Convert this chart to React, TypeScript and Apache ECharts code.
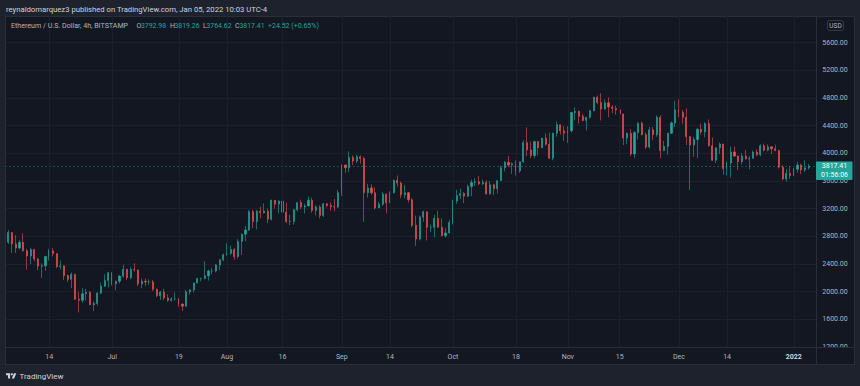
import React, { useEffect, useRef } from 'react';
import * as echarts from 'echarts';

// Daily candles [open, close, low, high], ETH/USD (Bitstamp)
const jun = [
  [2634, 2716, 2578, 2800], [2716, 2857, 2690, 2891], [2857, 2689, 2560, 2860], [2689, 2630, 2560, 2817],
  [2630, 2714, 2612, 2743], [2714, 2591, 2580, 2845], [2591, 2515, 2320, 2620], [2515, 2609, 2400, 2635],
  [2609, 2473, 2440, 2620], [2473, 2368, 2310, 2490], [2368, 2373, 2200, 2410], [2373, 2509, 2300, 2520],
  [2509, 2590, 2450, 2620], [2590, 2550, 2510, 2634], [2550, 2364, 2340, 2560], [2364, 2373, 2320, 2450],
  [2373, 2230, 2170, 2380], [2230, 2178, 2140, 2250], [2178, 2250, 2050, 2280], [2250, 1890, 1880, 2260],
  [1890, 1875, 1700, 2000], [1875, 1970, 1840, 2050], [1970, 1990, 1870, 2040], [1990, 1810, 1800, 2010],
  [1810, 1830, 1720, 1860], [1830, 1980, 1800, 1990], [1980, 2080, 1960, 2130], [2080, 2160, 2070, 2250],
  [2160, 2275, 2060, 2285],
];
const jul = [
  [2275, 2115, 2090, 2280], [2115, 2150, 2020, 2160], [2150, 2225, 2120, 2240], [2225, 2325, 2200, 2390],
  [2325, 2200, 2170, 2330], [2200, 2320, 2180, 2350], [2320, 2315, 2290, 2410], [2315, 2115, 2080, 2320],
  [2115, 2150, 2050, 2190], [2150, 2140, 2080, 2190], [2140, 2140, 2100, 2180], [2140, 2035, 2010, 2170],
  [2035, 1940, 1920, 2045], [1940, 1995, 1880, 2010], [1995, 1910, 1880, 2040], [1910, 1875, 1855, 1960],
  [1875, 1895, 1855, 1920], [1895, 1895, 1870, 1990], [1895, 1820, 1780, 1905], [1820, 1790, 1720, 1830],
  [1790, 1995, 1780, 2025], [1995, 2025, 1960, 2040], [2025, 2125, 1990, 2130], [2125, 2190, 2120, 2200],
  [2190, 2190, 2150, 2200], [2190, 2230, 2180, 2440], [2230, 2300, 2160, 2320], [2300, 2300, 2250, 2345],
  [2300, 2385, 2280, 2400], [2385, 2460, 2310, 2470], [2460, 2535, 2440, 2550],
];
const aug = [
  [2535, 2555, 2520, 2700], [2555, 2610, 2530, 2665], [2610, 2505, 2460, 2630], [2505, 2725, 2480, 2760],
  [2725, 2830, 2530, 2840], [2830, 2890, 2730, 2950], [2890, 3157, 2880, 3180], [3157, 3013, 2920, 3185],
  [3013, 3163, 2900, 3180], [3163, 3142, 3060, 3230], [3142, 3164, 3130, 3275], [3164, 3047, 2990, 3200],
  [3047, 3322, 3030, 3330], [3322, 3266, 3200, 3300], [3266, 3310, 3130, 3320], [3310, 3150, 3140, 3335],
  [3150, 3013, 2990, 3290], [3013, 3017, 2960, 3110], [3017, 3185, 2970, 3190], [3185, 3289, 3160, 3290],
  [3289, 3225, 3190, 3330], [3225, 3240, 3130, 3270], [3240, 3322, 3230, 3375], [3322, 3173, 3140, 3360],
  [3173, 3225, 3100, 3250], [3225, 3100, 3060, 3250], [3100, 3270, 3080, 3280], [3270, 3245, 3220, 3280],
  [3245, 3227, 3170, 3290], [3227, 3225, 3160, 3340], [3225, 3431, 3210, 3470],
];
const sep = [
  [3431, 3830, 3380, 3840], [3830, 3790, 3720, 3840], [3790, 3940, 3730, 4030], [3940, 3890, 3830, 3970],
  [3890, 3950, 3860, 3980], [3950, 3925, 3850, 3970], [3925, 3430, 3010, 3950], [3430, 3500, 3360, 3560],
  [3500, 3430, 3400, 3550], [3430, 3210, 3190, 3510], [3210, 3265, 3210, 3300], [3265, 3410, 3240, 3440],
  [3410, 3285, 3130, 3420], [3285, 3430, 3280, 3450], [3430, 3610, 3420, 3620], [3610, 3570, 3520, 3680],
  [3570, 3400, 3350, 3590], [3400, 3430, 3350, 3540], [3430, 3330, 3290, 3440], [3330, 2960, 2930, 3350],
  [2960, 2760, 2660, 3100], [2760, 3080, 2740, 3100], [3080, 3155, 3010, 3170], [3155, 2930, 2740, 3160],
  [2930, 2930, 2860, 2970], [2930, 3060, 2790, 3110], [3060, 2930, 2930, 3170], [2930, 2810, 2800, 3060],
  [2810, 2850, 2780, 2920], [2850, 3000, 2840, 3040],
];
const oct = [
  [3000, 3310, 2970, 3330], [3310, 3390, 3270, 3470], [3390, 3420, 3340, 3490], [3420, 3380, 3280, 3440],
  [3380, 3520, 3370, 3550], [3520, 3580, 3380, 3620], [3580, 3590, 3530, 3640], [3590, 3560, 3540, 3670],
  [3560, 3580, 3540, 3620], [3580, 3415, 3400, 3610], [3415, 3545, 3400, 3600], [3545, 3490, 3400, 3560],
  [3490, 3605, 3420, 3610], [3605, 3790, 3600, 3820], [3790, 3870, 3740, 3890], [3870, 3830, 3800, 3960],
  [3830, 3850, 3700, 3870], [3850, 3745, 3680, 3900], [3745, 3880, 3720, 3880], [3880, 4155, 3860, 4190],
  [4155, 4050, 3960, 4375], [4050, 3970, 3930, 4170], [3970, 4170, 3930, 4180], [4170, 4080, 3970, 4180],
  [4080, 4220, 4080, 4220], [4220, 4130, 4110, 4290], [4130, 3930, 3920, 4300], [3930, 4290, 3900, 4300],
  [4290, 4415, 4240, 4460], [4415, 4325, 4270, 4420], [4325, 4290, 4180, 4390],
];
const nov = [
  [4290, 4325, 4150, 4390], [4325, 4590, 4300, 4600], [4590, 4605, 4480, 4665], [4605, 4535, 4430, 4620],
  [4535, 4475, 4460, 4570], [4475, 4520, 4330, 4530], [4520, 4615, 4500, 4630], [4615, 4810, 4610, 4820],
  [4810, 4735, 4710, 4835], [4735, 4640, 4475, 4870], [4640, 4730, 4630, 4780], [4730, 4670, 4520, 4810],
  [4670, 4650, 4580, 4700], [4650, 4630, 4560, 4690], [4630, 4570, 4550, 4780], [4570, 4220, 4120, 4570],
  [4220, 4290, 4130, 4300], [4290, 3990, 3960, 4350], [3990, 4300, 3930, 4320], [4300, 4435, 4200, 4450],
  [4435, 4270, 4260, 4460], [4270, 4090, 4060, 4300], [4090, 4340, 4070, 4380], [4340, 4270, 4190, 4380],
  [4270, 4520, 4240, 4550], [4520, 4040, 3930, 4550], [4040, 4100, 4030, 4180], [4100, 4290, 3980, 4300],
  [4290, 4440, 4280, 4460], [4440, 4630, 4380, 4760],
];
const dec = [
  [4630, 4590, 4520, 4780], [4590, 4520, 4430, 4630], [4520, 4240, 4120, 4650], [4240, 4120, 3470, 4250],
  [4120, 4200, 3950, 4240], [4200, 4350, 3930, 4360], [4350, 4310, 4270, 4430], [4310, 4430, 4230, 4450],
  [4430, 4110, 4100, 4490], [4110, 3900, 3890, 4230], [3900, 4080, 3860, 4090], [4080, 4135, 3990, 4160],
  [4135, 3780, 3690, 4140], [3780, 3860, 3680, 3880], [3860, 4020, 3650, 4100], [4020, 3960, 3950, 4100],
  [3960, 3880, 3760, 3970], [3880, 3960, 3840, 4000], [3960, 3920, 3910, 4050], [3920, 3930, 3770, 3960],
  [3930, 4020, 3920, 4040], [4020, 3980, 3960, 4060], [3980, 4110, 3960, 4130], [4110, 4045, 4030, 4140],
  [4045, 4095, 4030, 4130], [4095, 4065, 3990, 4100], [4065, 4040, 4030, 4125], [4040, 3800, 3780, 4050],
  [3800, 3630, 3610, 3830], [3630, 3710, 3590, 3770], [3710, 3680, 3630, 3810],
];
const jan = [
  [3680, 3770, 3680, 3790], [3770, 3830, 3720, 3880], [3830, 3760, 3700, 3850], [3760, 3790, 3730, 3900],
  [3790, 3817.41, 3764.62, 3845],
];

const firstDate = '2021-06-01';
const dayCount = 221; // Jun 1 2021 .. Jan 7 2022 (Jun 1, Jan 6, Jan 7 empty)
const tickDates = ['2021-06-14', '2021-07-01', '2021-07-19', '2021-08-01', '2021-08-16', '2021-09-01', '2021-09-14',
  '2021-10-01', '2021-10-18', '2021-11-01', '2021-11-15', '2021-12-01', '2021-12-14', '2022-01-01'];
const tickLabels = ['14', 'Jul', '19', 'Aug', '16', 'Sep', '14', 'Oct', '18', 'Nov', '15', 'Dec', '14', '2022'];
const lastPrice = 3817.41;
const countdown = '01:56:06';
const publishedText = 'reynaldomarquez3 published on TradingView.com, Jan 05, 2022 10:03 UTC-4';
const symbolText = 'Ethereum / U.S. Dollar, 4h, BITSTAMP';
const ohlcKeys = ['O', 'H', 'L', 'C'];
const ohlcValues = ['3792.98', '3819.26', '3764.62', '3817.41'];
const changeText = '+24.52 (+0.65%)';

echarts.graphic.registerShape(
  'tvlogo',
  echarts.graphic.extendPath('M14 22H7V11H0V4h14v18zM28 22h-8l7.5-18h8L28 22z', {})
);

function buildDates(start: string, n: number): string[] {
  const out: string[] = [];
  const d0 = new Date(start + 'T00:00:00Z').getTime();
  for (let i = 0; i < n; i++) {
    out.push(new Date(d0 + i * 86400000).toISOString().slice(0, 10));
  }
  return out;
}

const FONT = 'Roboto, "Noto Sans", sans-serif';
const BG = '#131722';
const FRAME = '#1e222d';
const BORDER = '#2a2e39';
const GRID = '#1c202b';
const UP = '#26a69a';
const DOWN = '#ef5350';
const TEXT = '#b2b5be';

function txt(text: string, x: number, y: number, fill: string, size: number, align = 'left', weight = 'normal', z = 120) {
  return {
    type: 'text', x, y, z, silent: true,
    style: {
      text, fill, fontSize: size, fontFamily: FONT, fontWeight: weight,
      align, verticalAlign: 'middle', textAlign: align, textVerticalAlign: 'middle',
    },
  };
}

export default function App() {
  const ref = useRef<HTMLDivElement>(null);
  useEffect(() => {
    if (!ref.current) return;
    const chart = echarts.init(ref.current, null, { renderer: 'svg' });
    const dates = buildDates(firstDate, dayCount);
    const empty = ['-', '-', '-', '-'];
    const candles: any[] = [empty, ...jun, ...jul, ...aug, ...sep, ...oct, ...nov, ...dec, ...jan];
    while (candles.length < dates.length) candles.push(empty);

    const graphics: any[] = [
      // outer frame strips
      { type: 'rect', z: 100, silent: true, shape: { x: 0, y: 0, width: 860, height: 16 }, style: { fill: FRAME } },
      { type: 'rect', z: 100, silent: true, shape: { x: 0, y: 364, width: 860, height: 22 }, style: { fill: FRAME } },
      { type: 'rect', z: 100, silent: true, shape: { x: 0, y: 0, width: 5, height: 386 }, style: { fill: FRAME } },
      { type: 'rect', z: 100, silent: true, shape: { x: 855, y: 0, width: 5, height: 386 }, style: { fill: FRAME } },
      // mask under the price axis in the time axis row
      { type: 'rect', z: 100, silent: true, shape: { x: 817, y: 348, width: 38, height: 16 }, style: { fill: BG } },
      // borders and separators
      { type: 'line', z: 101, silent: true, shape: { x1: 5, y1: 16.5, x2: 855, y2: 16.5 }, style: { stroke: BORDER, lineWidth: 1 } },
      { type: 'line', z: 101, silent: true, shape: { x1: 5, y1: 364.5, x2: 855, y2: 364.5 }, style: { stroke: BORDER, lineWidth: 1 } },
      { type: 'line', z: 101, silent: true, shape: { x1: 5.5, y1: 16, x2: 5.5, y2: 365 }, style: { stroke: BORDER, lineWidth: 1 } },
      { type: 'line', z: 101, silent: true, shape: { x1: 854.5, y1: 16, x2: 854.5, y2: 365 }, style: { stroke: BORDER, lineWidth: 1 } },
      { type: 'line', z: 101, silent: true, shape: { x1: 816.5, y1: 16, x2: 816.5, y2: 365 }, style: { stroke: BORDER, lineWidth: 1 } },
      { type: 'line', z: 101, silent: true, shape: { x1: 5, y1: 347.5, x2: 855, y2: 347.5 }, style: { stroke: BORDER, lineWidth: 1 } },
      // header
      txt(publishedText, 6, 9.5, '#d1d4dc', 7.7),
      txt(symbolText, 11, 25.5, TEXT, 7.1),
      txt(ohlcKeys[0], 136.5, 25.5, TEXT, 7), txt(ohlcValues[0], 141, 25.5, UP, 6.9),
      txt(ohlcKeys[1], 170, 25.5, TEXT, 7), txt(ohlcValues[1], 174.5, 25.5, UP, 6.9),
      txt(ohlcKeys[2], 203, 25.5, TEXT, 7), txt(ohlcValues[2], 206.5, 25.5, UP, 6.9),
      txt(ohlcKeys[3], 235, 25.5, TEXT, 7), txt(ohlcValues[3], 239.5, 25.5, UP, 6.9),
      txt(changeText, 268, 25.5, UP, 7),
      // USD badge
      { type: 'rect', z: 110, silent: true, shape: { x: 827.5, y: 20.5, width: 16, height: 10, r: 2 }, style: { fill: BG, stroke: '#363a45', lineWidth: 1 } },
      txt('USD', 835.5, 25.7, TEXT, 6.5, 'center'),
      // last price tag (covers the 3600 label like the reference)
      { type: 'rect', z: 110, silent: true, shape: { x: 816, y: 161.5, width: 36.5, height: 18.5, r: 1 }, style: { fill: UP } },
      txt(lastPrice.toFixed(2), 834.5, 166.3, '#ffffff', 7, 'center', 'normal', 121),
      txt(countdown, 834.5, 174.7, '#ffffff', 7, 'center', 'normal', 121),
      // bottom brand
      { type: 'tvlogo', z: 120, silent: true, x: 6, y: 372, scaleX: 0.29, scaleY: 0.29, style: { fill: '#d1d4dc' } },
      { type: 'circle', z: 120, silent: true, shape: { cx: 6 + 20 * 0.29, cy: 372 + 8 * 0.29, r: 4 * 0.29 }, style: { fill: '#d1d4dc' } },
      txt('TradingView', 19.5, 376, '#d1d4dc', 8),
    ];

    chart.setOption({
      animation: false,
      backgroundColor: BG,
      textStyle: { fontFamily: FONT },
      grid: { left: 1, right: 44, top: 15, bottom: 39, containLabel: false },
      xAxis: {
        type: 'category',
        data: dates,
        boundaryGap: false,
        z: 110,
        axisLine: { show: false },
        axisTick: { show: false },
        axisLabel: {
          interval: (_i: number, v: string) => tickDates.indexOf(v) >= 0,
          formatter: (v: string) => {
            const k = tickDates.indexOf(v);
            const s = k >= 0 ? tickLabels[k] : '';
            return s === '2022' ? '{b|2022}' : s;
          },
          color: TEXT,
          fontSize: 7,
          fontFamily: FONT,
          margin: 6,
          rich: { b: { fontWeight: 'bold', color: '#d1d4dc', fontSize: 7, fontFamily: FONT } },
        },
        splitLine: {
          show: true,
          interval: (_i: number, v: string) => tickDates.indexOf(v) >= 0,
          lineStyle: { color: GRID, width: 1 },
        },
      },
      yAxis: {
        type: 'value',
        position: 'right',
        min: 1200,
        max: 6000,
        interval: 400,
        scale: false,
        axisLine: { show: false },
        axisTick: { show: false },
        axisLabel: {
          formatter: (v: number) => v.toFixed(2),
          color: TEXT,
          fontSize: 7,
          fontFamily: FONT,
          align: 'center',
          margin: 19,
        },
        splitLine: { show: true, lineStyle: { color: GRID, width: 1 } },
      },
      series: [
        {
          type: 'candlestick',
          data: candles,
          barWidth: 1.6,
          itemStyle: {
            color: UP, color0: DOWN, borderColor: UP, borderColor0: DOWN, borderWidth: 0.6,
          },
          emphasis: { disabled: true },
          markLine: {
            silent: true,
            symbol: 'none',
            label: { show: false },
            lineStyle: { color: 'rgba(38,166,154,0.4)', type: [2, 2], width: 1 },
            data: [{ yAxis: lastPrice }],
          },
        },
      ],
      graphic: graphics,
    });
    return () => chart.dispose();
  }, []);
  return <div ref={ref} style={{ position: 'fixed', left: 0, top: 0, width: 860, height: 386 }} />;
}
